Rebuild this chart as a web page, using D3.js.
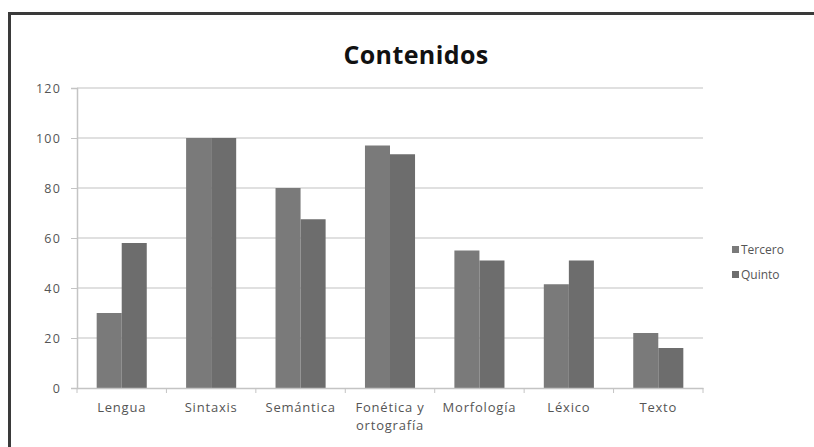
<!DOCTYPE html>
<html><head><meta charset="utf-8">
<script src="https://cdn.jsdelivr.net/npm/d3@7"></script>
<style>html,body{margin:0;background:#fff;overflow:hidden;} svg{display:block;}</style>
</head><body>
<svg id="c" width="814" height="447"></svg>
<script>
const categories = ["Lengua","Sintaxis","Semántica","Fonética y ortografía","Morfología","Léxico","Texto"];
const seriesNames = ["Tercero","Quinto"];
const tercero = [30, 100, 80, 97, 55, 41.5, 22];
const quinto = [58, 100, 67.5, 93.5, 51, 51, 16];
const yTicks = [0,20,40,60,80,100,120];
const colors = ["#7a7a7a","#6d6d6d"];

const svg = d3.select("#c");
const font = "'Open Sans', sans-serif";
// frame
svg.append("rect").attr("x",9.5).attr("y",13.5).attr("width",900).attr("height",500)
  .attr("fill","#fff").attr("stroke","#3a3a3a").attr("stroke-width",3);

const m = {l:77, r:703, t:88, b:388};
const x = d3.scaleBand().domain(categories).range([m.l,m.r]).paddingInner(0.44).paddingOuter(0.22);
const xs = d3.scaleBand().domain(seriesNames).range([0,x.bandwidth()]);
const y = d3.scaleLinear().domain([0,120]).range([m.b,m.t]);

// gridlines
svg.append("g").selectAll("line").data(yTicks.filter(d=>d>0)).join("line")
  .attr("x1",m.l).attr("x2",m.r).attr("y1",d=>y(d)).attr("y2",d=>y(d))
  .attr("stroke","#d6d6d6").attr("stroke-width",1.5);

// y axis
const ya = svg.append("g").attr("transform",`translate(${m.l},0)`)
  .call(d3.axisLeft(y).tickValues(yTicks).tickSize(6).tickPadding(10));
ya.select(".domain").attr("stroke","#c4c4c4").attr("stroke-width",1.5);
ya.selectAll(".tick line").attr("stroke","#c4c4c4");
ya.selectAll("text").attr("font-family",font).attr("font-size",12.5)
  .attr("letter-spacing","1.2px").attr("fill","#555");

// bars
const data = categories.map((c,i)=>({c, vals:[tercero[i], quinto[i]]}));
const g = svg.append("g").selectAll("g").data(data).join("g")
  .attr("transform",d=>`translate(${x(d.c)},0)`);
g.selectAll("rect").data(d=>d.vals.map((v,j)=>({s:seriesNames[j],v,j}))).join("rect")
  .attr("x",d=>xs(d.s)).attr("width",xs.bandwidth())
  .attr("y",d=>y(d.v)).attr("height",d=>y(0)-y(d.v))
  .attr("fill",d=>colors[d.j]);

// x axis
const xa = svg.append("g").attr("transform",`translate(0,${m.b})`)
  .call(d3.axisBottom(x).tickSize(0).tickPadding(15));
xa.select(".domain").attr("stroke","#c4c4c4").attr("stroke-width",1.5);
const step = x.step();
svg.append("g").selectAll("line").data(d3.range(categories.length+1)).join("line")
  .attr("x1",i=>m.l+i*step).attr("x2",i=>m.l+i*step).attr("y1",m.b).attr("y2",m.b+5)
  .attr("stroke","#c4c4c4");
xa.selectAll("text").attr("font-family",font).attr("font-size",13)
  .attr("letter-spacing","0.8px").attr("fill","#555")
  .each(function(d){
    const t = d3.select(this);
    if (d === "Fonética y ortografía") {
      t.text(null);
      t.append("tspan").attr("x",0).attr("dy","0.71em").text("Fonética  y");
      t.append("tspan").attr("x",0).attr("dy","1.4em").text("ortografía");
    }
  });

// title
svg.append("text").attr("x",416).attr("y",64).attr("text-anchor","middle")
  .attr("font-family",font).attr("font-weight","bold").attr("font-size",25)
  .attr("letter-spacing","0.4px").attr("fill","#111")
  .text("Contenidos");

// legend
const lg = svg.append("g").selectAll("g").data(seriesNames).join("g")
  .attr("transform",(d,i)=>`translate(732,${250+i*25})`);
lg.append("rect").attr("x",0).attr("y",-4).attr("width",7).attr("height",7).attr("fill",(d,i)=>colors[i]);
lg.append("text").attr("x",9).attr("y",0).attr("dy","0.35em").attr("font-family",font)
  .attr("font-size",12).attr("fill","#555").text(d=>d);
</script>
</body></html>
